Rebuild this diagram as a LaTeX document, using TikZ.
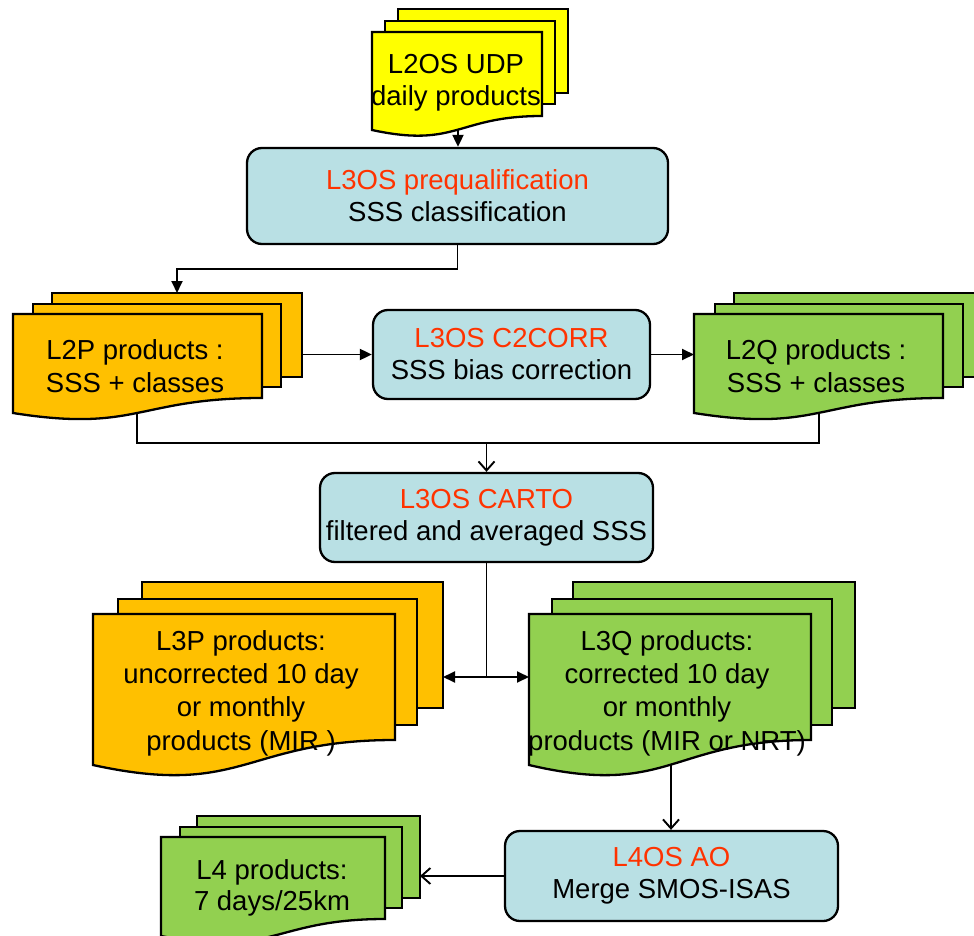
\documentclass[tikz,border=0pt]{standalone}
\usepackage{fontspec}
\setmainfont{Liberation Sans}
\usetikzlibrary{arrows.meta}
\definecolor{docyellow}{HTML}{FFFF00}
\definecolor{docorange}{HTML}{FFC000}
\definecolor{docgreen}{HTML}{92D050}
\definecolor{procblue}{HTML}{B9E0E4}
\definecolor{procred}{HTML}{FF3300}
\newcommand\wavesheet[6]{\draw[sheetline,fill=#1] (#2,#3) -- (#4,#3) -- (#4,#5) .. controls ({(#2+#4)/2},#5) and ({(#2+#4)/2},{#5+2.32*(#6-#5)}) .. (#2,#6) -- cycle;}
\newcommand\redtxt[1]{\textcolor{procred}{#1}}
\begin{document}
\begin{tikzpicture}[x=1pt,y=-1pt,
  sheetline/.style={draw=black,line width=2.3pt,line join=miter},
  backsheet/.style={sheetline,rectangle,anchor=north west,inner sep=0pt,outer sep=0pt},
  frontbox/.style={rectangle,anchor=north west,inner sep=0pt,outer sep=0pt},
  txt/.style={align=center,inner sep=0pt,font=\fontsize{27.5pt}{32.5pt}\selectfont},
  proc/.style={draw=black,line width=2.3pt,fill=procblue,rounded corners=15pt,align=center,inner sep=0pt,font=\fontsize{27.5pt}{32pt}\selectfont},
  conn/.style={draw=black,line width=1.9pt},
  arrF/.style={conn,-{Triangle[length=12pt,width=11pt]}},
  arrFF/.style={conn,{Triangle[length=12pt,width=11pt]}-{Triangle[length=12pt,width=11pt]}},
  arrO/.style={conn,-{Straight Barb[length=9pt,width=16pt,line width=1.9pt]}}
]
\useasboundingbox (0,0) rectangle (974,936);

% ---- L2OS UDP stack
\node[backsheet,fill=docyellow,minimum width=170pt,minimum height=84pt] (L2OSb) at (398,9) {};
\node[backsheet,fill=docyellow,minimum width=170pt,minimum height=83pt] (L2OSm) at (385,21) {};
\wavesheet{docyellow}{372}{32}{542}{116}{130}
\node[frontbox,minimum width=170pt,minimum height=98pt] (L2OSf) at (372,32) {};
\node[txt] (L2OS) at (456,83) {L2OS UDP\\daily products};
\coordinate (L2OSbot) at (458,129);

% ---- prequalification
\node[proc,minimum width=421pt,minimum height=96pt] (P) at (457.5,196) {\redtxt{L3OS prequalification}\\SSS classification};

% ---- L2P stack
\node[backsheet,fill=docorange,minimum width=250pt,minimum height=84pt] (L2Pb) at (52,293) {};
\node[backsheet,fill=docorange,minimum width=248pt,minimum height=83pt] (L2Pm) at (33,304) {};
\wavesheet{docorange}{13}{314}{262}{398}{413}
\node[frontbox,minimum width=249pt,minimum height=99pt] (L2Pf) at (13,314) {};
\node[txt] (L2P) at (135,366) {L2P products :\\SSS + classes};
\coordinate (L2Pbot) at (137,412);

% ---- C2CORR
\node[proc,minimum width=277pt,minimum height=89pt] (C2) at (511.5,354.5) {\redtxt{L3OS C2CORR}\\SSS bias correction};

% ---- L2Q stack
\node[backsheet,fill=docgreen,minimum width=249pt,minimum height=84pt] (L2Qb) at (734,293) {};
\node[backsheet,fill=docgreen,minimum width=248pt,minimum height=83pt] (L2Qm) at (715,304) {};
\wavesheet{docgreen}{694}{314}{943}{398}{413}
\node[frontbox,minimum width=249pt,minimum height=99pt] (L2Qf) at (694,314) {};
\node[txt] (L2Q) at (816,366) {L2Q products :\\SSS + classes};
\coordinate (L2Qbot) at (819,412);

% ---- CARTO
\node[proc,minimum width=333pt,minimum height=89pt] (CA) at (486.5,517.5) {\redtxt{L3OS CARTO}\\filtered and averaged SSS};
\coordinate (J) at (486.5,443);
\coordinate (K) at (486.5,677);

% ---- L3P stack
\node[backsheet,fill=docorange,minimum width=301pt,minimum height=126pt] (L3Pb) at (142,582) {};
\node[backsheet,fill=docorange,minimum width=299pt,minimum height=126pt] (L3Pm) at (118,599) {};
\wavesheet{docorange}{93}{614}{395}{740}{765}
\node[frontbox,minimum width=302pt,minimum height=151pt] (L3Pf) at (93,614) {};
\node[txt,font=\fontsize{27.5pt}{33.3pt}\selectfont] (L3P) at (241,693) {L3P products:\\uncorrected 10 day\\or monthly\hspace*{7pt}\\products (MIR )};

% ---- L3Q stack
\node[backsheet,fill=docgreen,minimum width=282pt,minimum height=126pt] (L3Qb) at (573,582) {};
\node[backsheet,fill=docgreen,minimum width=280pt,minimum height=126pt] (L3Qm) at (552,599) {};
\wavesheet{docgreen}{529}{614}{811}{740}{765}
\node[frontbox,minimum width=282pt,minimum height=151pt] (L3Qf) at (529,614) {};
\node[txt,font=\fontsize{27.5pt}{33.3pt}\selectfont] (L3Q) at (667,693) {L3Q products:\\corrected 10 day\\or monthly\\products (MIR or NRT)};
\coordinate (L3Qbot) at (671,765);

% ---- L4OS AO
\node[proc,minimum width=333pt,minimum height=90pt] (L4OS) at (671.5,876) {\redtxt{L4OS AO}\\Merge SMOS-ISAS};

% ---- L4 stack
\node[backsheet,fill=docgreen,minimum width=223pt,minimum height=82pt] (L4b) at (197,816) {};
\node[backsheet,fill=docgreen,minimum width=222pt,minimum height=81pt] (L4m) at (180,827) {};
\wavesheet{docgreen}{161}{837}{385}{919}{936}
\node[frontbox,minimum width=224pt,minimum height=99pt] (L4f) at (161,837) {};
\node[txt,font=\fontsize{27.5pt}{31pt}\selectfont] (L4) at (272,888) {L4 products:\\7 days/25km};

% ---- connectors
\draw[arrF] (L2OSbot) -- (L2OSbot |- P.north);
\draw[arrF] (P.south) -- ++(0,24) -| (L2Pb.north);
\draw[arrF] (C2.west -| L2Pb.east) -- (C2.west);
\draw[arrF] (C2.east) -- (C2.east -| L2Qf.west);
\draw[conn] (L2Pbot) |- (J) -| (L2Qbot);
\draw[arrO] (J) -- (CA.north);
\draw[conn] (CA.south) -- (K);
\draw[arrFF] (K -| L3Pb.east) -- (K -| L3Qf.west);
\draw[arrO] (L3Qbot) -- (L3Qbot |- L4OS.north);
\draw[arrO,line width=2.4pt] (L4OS.west) -- (L4OS.west -| L4b.east);
\end{tikzpicture}
\end{document}
